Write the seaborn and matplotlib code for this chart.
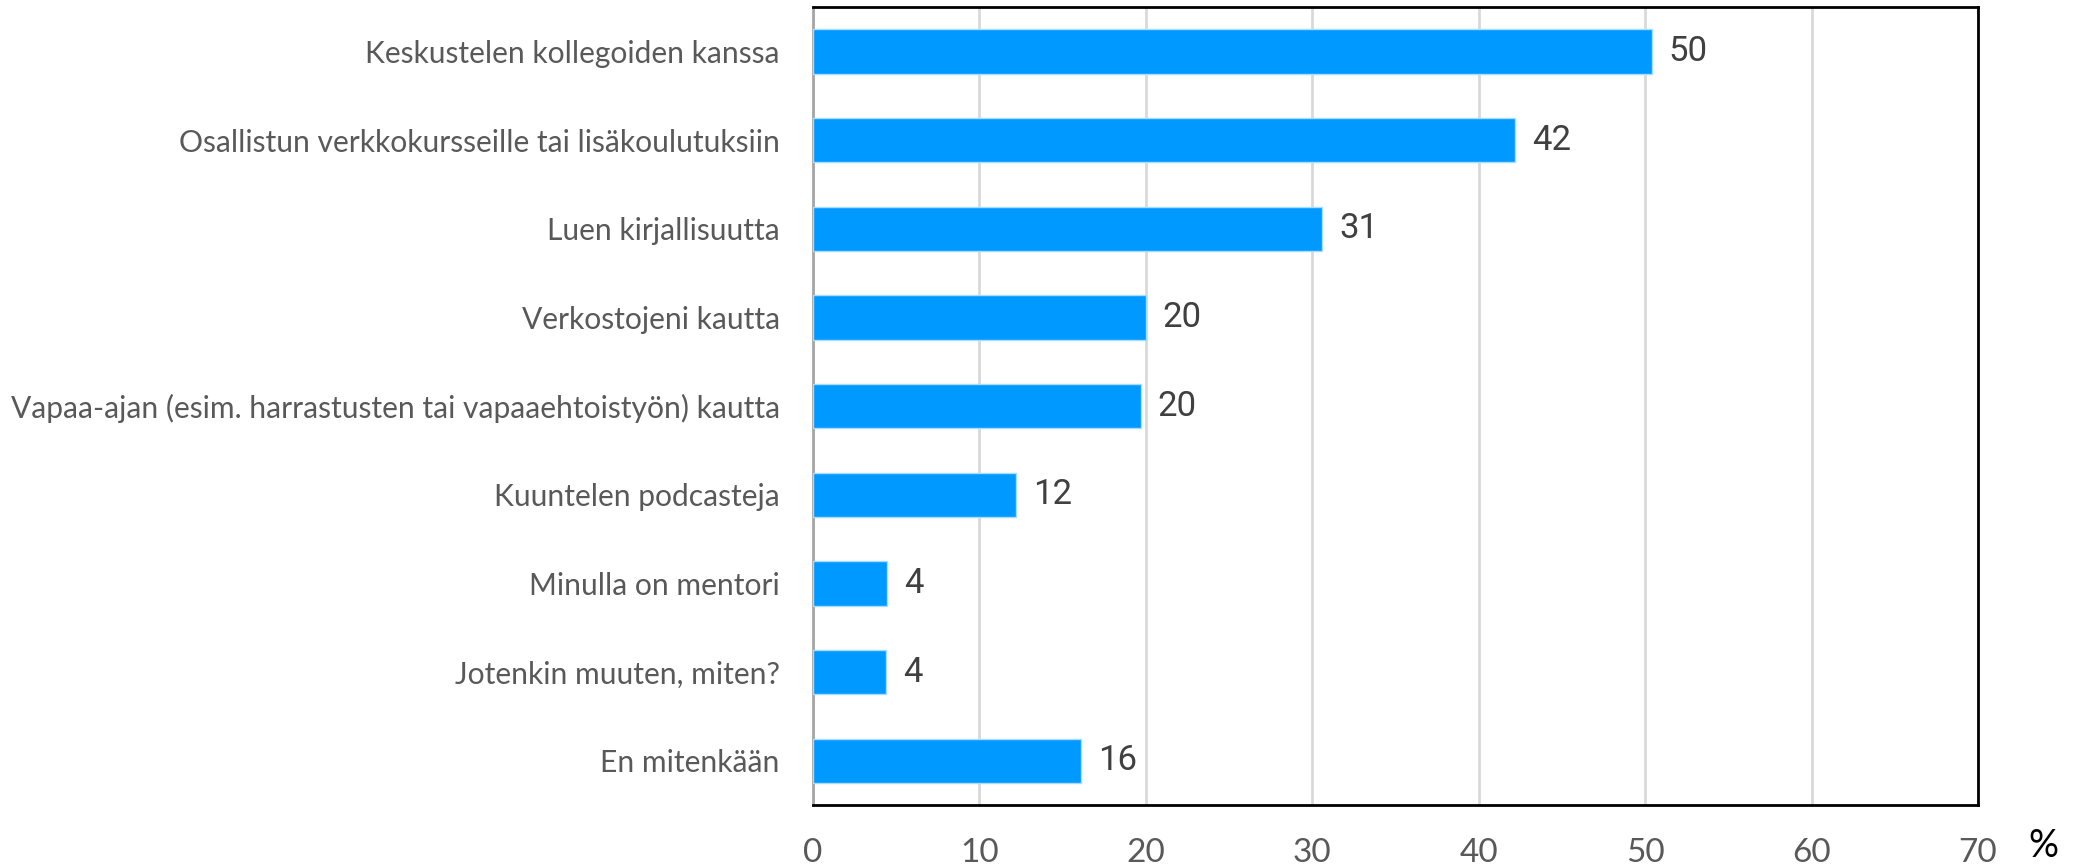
import matplotlib
matplotlib.use("Agg")
import matplotlib.pyplot as plt
import seaborn as sns
import pandas as pd

categories = [
    "Keskustelen kollegoiden kanssa",
    "Osallistun verkkokursseille tai lisäkoulutuksiin",
    "Luen kirjallisuutta",
    "Verkostojeni kautta",
    "Vapaa-ajan (esim. harrastusten tai vapaaehtoistyön) kautta",
    "Kuuntelen podcasteja",
    "Minulla on mentori",
    "Jotenkin muuten, miten?",
    "En mitenkään",
]
values = [50.4, 42.2, 30.6, 20.0, 19.7, 12.2, 4.45, 4.4, 16.1]
value_labels = ["50", "42", "31", "20", "20", "12", "4", "4", "16"]
x_ticks = [0, 10, 20, 30, 40, 50, 60, 70]

df = pd.DataFrame({"cat": categories, "val": values})

sns.set_theme(style="white")
plt.rcParams["font.family"] = ["Lato", "DejaVu Sans"]

fig = plt.figure(figsize=(20.74, 8.66), dpi=100)
ax = fig.add_axes([0.392, 0.0704, 0.9537 - 0.392, 0.9919 - 0.0704])

sns.barplot(data=df, x="val", y="cat", orient="h", color="#0099FF",
            saturation=1, width=0.5, edgecolor="#a8dcff", linewidth=1,
            ax=ax, zorder=3)

ax.set_xlim(0, 70)
ax.set_ylim(8.5, -0.5)
ax.set_xticks(x_ticks)
ax.set_xticklabels([str(t) for t in x_ticks])
ax.xaxis.grid(True, color="#d9d9d9", linewidth=2, zorder=0)
ax.set_axisbelow(True)
ax.set_xlabel("")
ax.set_ylabel("")

ax.tick_params(axis="y", length=0, pad=24, labelsize=21.6, labelcolor="#595959")
ax.tick_params(axis="x", length=0, pad=24, labelsize=24, labelcolor="#595959")

for side in ["top", "right", "bottom"]:
    ax.spines[side].set_color("black")
    ax.spines[side].set_linewidth(2)
    ax.spines[side].set_visible(True)
ax.spines["left"].set_color("#a6a6a6")
ax.spines["left"].set_linewidth(2)
ax.spines["left"].set_visible(True)

for i, (v, lab) in enumerate(zip(values, value_labels)):
    ax.annotate(lab, xy=(v, i), xytext=(12, 0), textcoords="offset points",
                va="center", ha="left", fontsize=25, color="#404040",
                family=["Roboto", "DejaVu Sans"], zorder=4)

fig.text(2043 / 2074, 1 - 846 / 866, "%", fontsize=27, color="black",
         ha="center", va="center")

fig.savefig("out.png", dpi=100)
